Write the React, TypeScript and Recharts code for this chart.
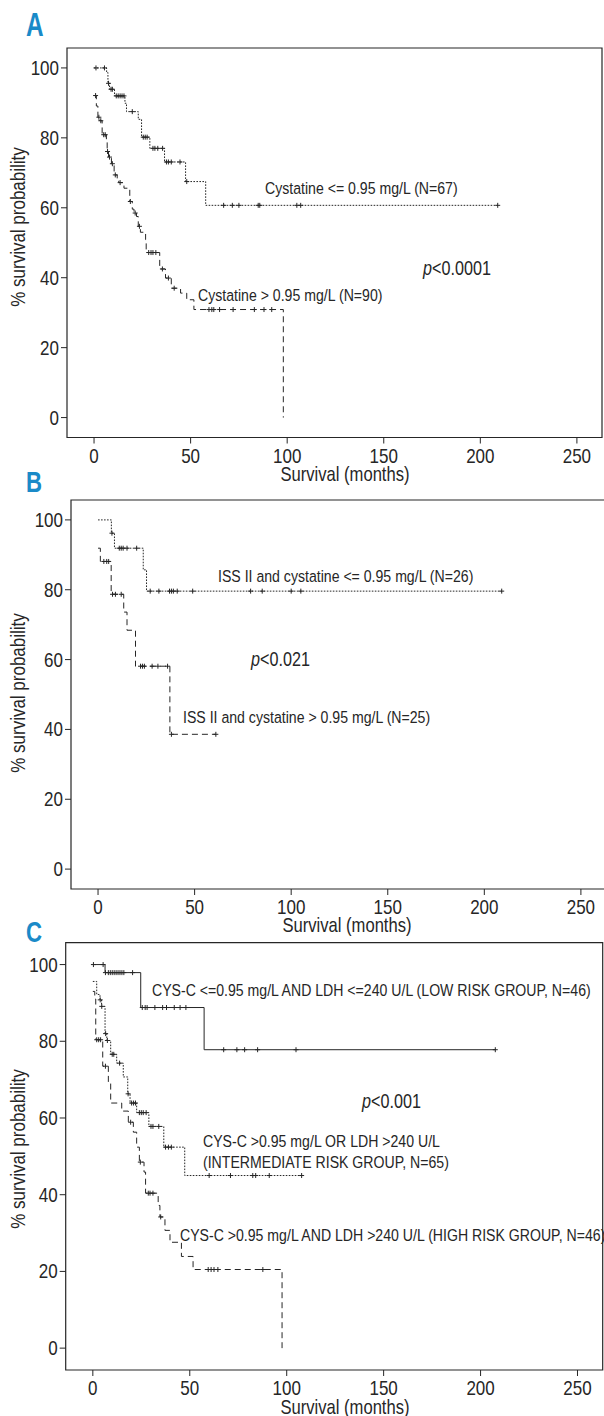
import React from "react";
import {
  ComposedChart,
  Line,
  Scatter,
  XAxis,
  YAxis,
  ReferenceArea,
} from "recharts";

// ---------- DATA ----------
// Panel A
const aLowSteps = [
  [0, 100], [6.5, 98.7], [7.2, 95.6], [8, 93.9], [10.6, 92], [16, 89.9], [16.8, 87.5],
  [22.9, 85.3], [24.6, 80.2], [28.9, 77], [36.5, 73.1], [47.4, 67.5], [57.8, 60.7], [209, 60.7],
];
const aLowCensor = [1, 5.4, 7.5, 8.8, 9.5, 11.5, 12.5, 13.5, 14.5, 15.5, 19.8, 25.5, 26.5, 27.5,
  30.5, 31.5, 33, 35.5, 37.5, 38.5, 40, 44.5, 48, 67.1, 71.6, 75, 85, 85.8, 105, 107, 209];
const aHighSteps = [
  [0, 92.1], [1.2, 89.1], [2, 85.9], [3, 84.9], [4.2, 80.9], [6.4, 79.4], [6.8, 76.1], [7.5, 74.5],
  [9, 72.6], [10.4, 69.4], [12, 68], [12.8, 67.2], [15.5, 65.6], [18.5, 61.8], [19.8, 59.6],
  [20.7, 58.5], [22, 57.5], [22.9, 54.7], [24, 53], [26.7, 50.9], [27, 47.2], [34, 42.5],
  [37, 39.9], [40, 37], [44.8, 35.6], [48, 33.7], [51.7, 30.9], [98, 0],
];
const aHighCensor = [0.8, 2.5, 3.5, 5, 5.8, 7, 8, 9.5, 11, 13.5, 18.8, 21.3, 23.5, 28.3, 29.5,
  30.5, 32, 35.4, 38.5, 41.5, 59.5, 61, 62, 65, 72, 83, 88, 92];

// Panel B
const bLowSteps = [[0, 100], [6.9, 96.2], [8.5, 91.9], [23.4, 85.7], [25.1, 79.6], [209, 79.6]];
const bLowCensor = [7.2, 11, 12, 13, 15, 20, 27, 31.5, 37, 38, 39, 41, 49, 79, 85, 100, 105, 209];
const bHighSteps = [[0, 91.9], [1.2, 88.1], [6.8, 78.7], [13.3, 73.6], [15, 68.4], [19.4, 58.1],
  [37.2, 38.6], [61, 38.6]];
const bHighCensor = [3, 4.5, 5.5, 7.5, 9, 12, 22, 23, 24, 28, 31, 36, 38, 61];

// Panel C
const cLowSteps = [[0, 100], [6.3, 97.9], [24.7, 88.8], [57.4, 77.8], [207.6, 77.8]];
const cLowCensor = [0.3, 5.3, 6.5, 8, 9, 10, 11, 12, 13, 14, 15, 16, 20.5, 25.5, 27, 28, 32, 36,
  38, 42, 45, 48, 67.5, 74.3, 78.3, 85, 104.8, 207.6];
const cMidSteps = [[0, 95.6], [2, 92.2], [3.7, 90.8], [4.5, 89.1], [6.3, 82], [7.2, 80.2],
  [9.2, 76.6], [12.3, 74.3], [15.7, 70.7], [18, 66.3], [19.2, 63.9], [22.6, 61.4], [28.9, 57.8],
  [36.6, 52.4], [47.4, 45], [107.7, 45]];
const cMidCensor = [3.8, 4.6, 6.6, 7.5, 10, 10.8, 13.8, 18.2, 20, 21, 22, 24, 25, 26, 27.5, 30,
  31, 34, 37.5, 39, 40.5, 60, 71, 82.5, 84, 91, 107.7];
const cHighSteps = [[0, 93], [1, 91], [1.5, 80.4], [5.1, 73.5], [8, 69.4], [9.2, 63.9],
  [14.9, 61.8], [18.3, 58.9], [20.9, 56.3], [22.6, 52.4], [24, 48.5], [26.4, 45.9], [27.2, 40.4],
  [33.7, 37.2], [34.6, 34.2], [37.2, 30.7], [39.8, 27.6], [45.7, 23.9], [51.7, 20.5], [97.6, 0]];
const cHighCensor = [2, 3, 4, 6.5, 19.5, 24.5, 28.6, 29.5, 31, 35, 59.5, 61, 62.5, 64.5, 87.7];

const xTicks = [0, 50, 100, 150, 200, 250];
const yTicks = [0, 20, 40, 60, 80, 100];
const xDomain = [-14, 263];
const yDomain = [-5.7, 105.7];

// ---------- HELPERS ----------
const FONT = "'Liberation Sans', Arial, Helvetica, sans-serif";
const INK = "#262626";
const BLUE = "#1a8ac8";

const toPts = (steps: number[][]) => steps.map(([t, s]) => ({ t, s }));
const censorPts = (steps: number[][], times: number[]) =>
  times.map((t) => {
    let s = steps[0][1];
    for (const [st, sv] of steps) if (st <= t) s = sv;
    return { t, s };
  });

// condensed-looking text: a regular font squeezed horizontally
function NText({
  x, y, size, sx = 0.83, anchor = "start", rotate = 0, weight, fill = INK, baseline = "central", children,
}: any) {
  return (
    <text
      transform={`translate(${x} ${y}) rotate(${rotate}) scale(${sx} 1)`}
      fontSize={size}
      fontFamily={FONT}
      fontWeight={weight}
      fill={fill}
      textAnchor={anchor}
      dominantBaseline={baseline}
    >
      {children}
    </text>
  );
}

const XTick = (props: any) => {
  const { x, y, payload } = props;
  return (
    <NText x={x} y={y + 12} size={20} sx={0.85} anchor="middle">
      {String(payload.value)}
    </NText>
  );
};
const YTick = (props: any) => {
  const { x, y, payload } = props;
  return (
    <NText x={x} y={y} size={20} sx={0.85} anchor="end">
      {String(payload.value)}
    </NText>
  );
};

const Plus = (props: any) => {
  const { cx, cy } = props;
  if (cx == null || cy == null) return null;
  return (
    <path
      d={`M${cx - 2.5},${cy}h5M${cx},${cy - 2.5}v5`}
      stroke={INK}
      strokeWidth={1}
      fill="none"
    />
  );
};

type Curve = { steps: number[][]; censor: number[]; dash?: string };

function KMChart({
  width, height, top, yAxisWidth, xAxisHeight, curves, right = 0,
}: {
  width: number; height: number; top: number; yAxisWidth: number; xAxisHeight: number;
  curves: Curve[]; right?: number;
}) {
  return (
    <ComposedChart
      width={width}
      height={height}
      margin={{ top, right, bottom: 0, left: 0 }}
    >
      <XAxis
        type="number"
        dataKey="t"
        domain={xDomain}
        ticks={xTicks}
        allowDataOverflow
        height={xAxisHeight}
        axisLine={false}
        tickSize={6}
        tickLine={{ stroke: INK }}
        tickMargin={0}
        tick={XTick}
        interval={0}
      />
      <YAxis
        type="number"
        dataKey="s"
        domain={yDomain}
        ticks={yTicks}
        allowDataOverflow
        width={yAxisWidth}
        axisLine={false}
        tickSize={6}
        tickLine={{ stroke: INK }}
        tickMargin={2}
        tick={YTick}
        interval={0}
      />
      <ReferenceArea
        x1={xDomain[0]}
        x2={xDomain[1]}
        y1={yDomain[0]}
        y2={yDomain[1]}
        fill="none"
        stroke={INK}
        strokeWidth={1.2}
        ifOverflow="visible"
      />
      {curves.map((c, i) => (
        <Line
          key={"l" + i}
          data={toPts(c.steps)}
          dataKey="s"
          type="stepAfter"
          stroke={INK}
          strokeWidth={1}
          strokeDasharray={c.dash}
          dot={false}
          activeDot={false}
          isAnimationActive={false}
        />
      ))}
      {curves.map((c, i) => (
        <Scatter
          key={"c" + i}
          data={censorPts(c.steps, c.censor)}
          dataKey="s"
          shape={<Plus />}
          isAnimationActive={false}
        />
      ))}
    </ComposedChart>
  );
}

const DOT = "1.6 1.4";
const DASH = "6 4";

export default function App() {
  return (
    <div
      style={{
        position: "absolute",
        left: 0,
        top: 0,
        width: 604,
        height: 1416,
        overflow: "hidden",
        background: "#fff",
      }}
    >
      <div style={{ position: "absolute", left: 0, top: 0 }}>
        <KMChart
          width={604}
          height={490}
          top={48}
          right={2}
          yAxisWidth={67}
          xAxisHeight={52.5}
          curves={[
            { steps: aLowSteps, censor: aLowCensor, dash: DOT },
            { steps: aHighSteps, censor: aHighCensor, dash: DASH },
          ]}
        />
      </div>
      <div style={{ position: "absolute", left: 0, top: 490 }}>
        <KMChart
          width={606}
          height={450}
          top={10}
          right={0}
          yAxisWidth={71}
          xAxisHeight={51}
          curves={[
            { steps: bLowSteps, censor: bLowCensor, dash: DOT },
            { steps: bHighSteps, censor: bHighCensor, dash: DASH },
          ]}
        />
      </div>
      <div style={{ position: "absolute", left: 0, top: 940 }}>
        <KMChart
          width={604}
          height={476}
          top={2.7}
          right={1.3}
          yAxisWidth={65.7}
          xAxisHeight={46}
          curves={[
            { steps: cLowSteps, censor: cLowCensor },
            { steps: cMidSteps, censor: cMidCensor, dash: DOT },
            { steps: cHighSteps, censor: cHighCensor, dash: DASH },
          ]}
        />
      </div>
      <svg
        width={604}
        height={1416}
        style={{ position: "absolute", left: 0, top: 0, pointerEvents: "none" }}
      >
        {/* Panel letters */}
        <NText x={26} y={36} size={33} sx={0.74} weight="bold" fill={BLUE} baseline="alphabetic">A</NText>
        <NText x={26} y={492} size={30} sx={0.74} weight="bold" fill={BLUE} baseline="alphabetic">B</NText>
        <NText x={26} y={942} size={30} sx={0.74} weight="bold" fill={BLUE} baseline="alphabetic">C</NText>

        {/* Panel A */}
        <NText x={265} y={188} size={17}>Cystatine &lt;= 0.95 mg/L (N=67)</NText>
        <NText x={423} y={268} size={19.5}>
          <tspan fontStyle="italic">p</tspan>&lt;0.0001
        </NText>
        <NText x={198} y={295} size={17}>Cystatine &gt; 0.95 mg/L (N=90)</NText>
        <NText x={18} y={227} size={20} sx={0.85} anchor="middle" rotate={-90}>% survival probability</NText>
        <NText x={345} y={474} size={20} anchor="middle">Survival (months)</NText>

        {/* Panel B */}
        <NText x={218} y={576} size={17}>ISS II and cystatine &lt;= 0.95 mg/L (N=26)</NText>
        <NText x={251} y={659} size={19.5}>
          <tspan fontStyle="italic">p</tspan>&lt;0.021
        </NText>
        <NText x={183} y={717} size={17}>ISS II and cystatine &gt; 0.95 mg/L (N=25)</NText>
        <NText x={18} y={693} size={20} sx={0.85} anchor="middle" rotate={-90}>% survival probability</NText>
        <NText x={347} y={925} size={20} anchor="middle">Survival (months)</NText>

        {/* Panel C */}
        <NText x={152} y={990} size={17}>CYS-C &lt;=0.95 mg/L AND LDH &lt;=240 U/L (LOW RISK GROUP, N=46)</NText>
        <NText x={362} y={1101} size={19.5}>
          <tspan fontStyle="italic">p</tspan>&lt;0.001
        </NText>
        <NText x={203} y={1141} size={17}>CYS-C &gt;0.95 mg/L OR LDH &gt;240 U/L</NText>
        <NText x={203} y={1162} size={17}>(INTERMEDIATE RISK GROUP, N=65)</NText>
        <NText x={180} y={1235} size={17}>CYS-C &gt;0.95 mg/L AND LDH &gt;240 U/L (HIGH RISK GROUP, N=46)</NText>
        <NText x={18} y={1149} size={20} sx={0.85} anchor="middle" rotate={-90}>% survival probability</NText>
        <NText x={345} y={1407} size={20} anchor="middle">Survival (months)</NText>
      </svg>
    </div>
  );
}
